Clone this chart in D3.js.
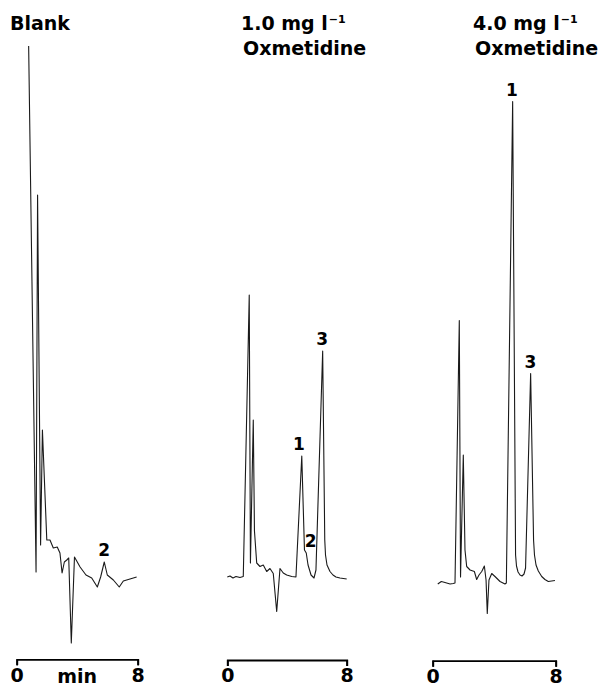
<!DOCTYPE html>
<html>
<head>
<meta charset="utf-8">
<script src="https://cdn.jsdelivr.net/npm/d3@7"></script>
<style>
  body { margin: 0; background: #fff; }
  text { font-family: "DejaVu Sans", sans-serif; font-weight: bold; fill: #000; }
</style>
</head>
<body>
<script>
// retention time (min) and detector response (arbitrary units)
const blankTime   = [0.79, 1.28, 1.38, 1.58, 1.70, 1.99, 2.20, 2.42, 2.68, 2.86, 3.00, 3.15, 3.31, 3.44, 3.61, 3.82, 4.19, 4.58, 4.96, 5.33, 5.55, 5.79, 5.99, 6.39, 6.78, 7.05, 7.49, 7.93];
const blankSignal = [106.8, 1.6, 77, 7, 30, 8, 8, 6.4, 6.6, 5.4, 1.4, 3.6, 4, 4.4, -12.6, 4.6, 2.6, 1, 0.4, -1.4, 0.6, 3.6, 1, 0, -1.4, -0.2, 0.2, 0.6];

const lowTime   = [0, 0.18, 0.38, 0.58, 0.85, 1.07, 1.47, 1.55, 1.74, 1.82, 1.97, 2.19, 2.41, 2.64, 2.86, 3.08, 3.31, 3.53, 3.75, 3.98, 4.32, 4.60, 4.99, 5.17, 5.29, 5.41, 5.61, 5.81, 5.94, 6.39, 6.53, 6.58, 6.68, 6.88, 7.08, 7.28, 7.55, 8.00];
const lowSignal = [0.6, 0.8, 0.4, 0.7, 0.5, 0.7, 57, 3.4, 32, 9.8, 3.4, 2.7, 3, 1.7, 2.3, 1.3, -6.3, 2.3, 1.4, 1, 0.7, 0.6, 24.8, 6, 5.4, 3, 1, 0.4, 2, 45.8, 8, 5, 3, 1.7, 1, 0.6, 0.4, 0.2];

const highTime   = [0.33, 0.56, 0.80, 1.13, 1.34, 1.45, 1.73, 1.81, 1.99, 2.10, 2.21, 2.43, 2.71, 2.86, 3.01, 3.19, 3.36, 3.47, 3.55, 3.66, 3.84, 4.05, 4.38, 4.70, 4.79, 5.20, 5.39, 5.45, 5.55, 5.68, 5.81, 5.94, 6.04, 6.37, 6.56, 6.62, 6.72, 6.87, 7.09, 7.30, 7.52, 7.95];
const highSignal = [-0.8, -0.3, -0.5, -0.8, -0.7, -0.6, 51.9, 0.6, 25, 6, 2.7, 2, 1.7, 0.1, 1, 1.7, 2.8, 0, -6.7, 0, 1.3, 0.7, -0.3, -0.8, -0.6, 95.7, 5, 2.8, 1.6, 1, 0.8, 1.2, 2.4, 41.3, 8, 5, 3, 1.8, 0.7, 0.1, -0.3, -0.1];

// numbered peaks: label text, time, response of the peak
const blankPeaks = [{ text: "2", t: 5.79, v: 3.6 }];
const lowPeaks   = [{ text: "1", t: 4.80, v: 24.8 }, { text: "2", t: 5.59, v: 5.4 }, { text: "3", t: 6.36, v: 45.8 }];
const highPeaks  = [{ text: "1", t: 5.16, v: 95.7 }, { text: "3", t: 6.36, v: 41.3 }];

const axisTicks = [0, 8];

const width = 603, height = 689;
const svg = d3.select("body").append("svg")
    .attr("width", width)
    .attr("height", height);

svg.append("rect").attr("width", width).attr("height", height).attr("fill", "#fff");

const y = d3.scaleLinear().domain([0, 100]).range([580, 80]);

const panels = [
    { lines: [["Blank"]], time: blankTime, signal: blankSignal, peaks: blankPeaks, x0: 16.7, x1: 137.7, axisY: 659.3, titleX: [10], unit: "min" },
    { lines: [["1.0 mg l", "\u22121"], ["Oxmetidine"]], time: lowTime, signal: lowSignal, peaks: lowPeaks, x0: 227.3, x1: 346.7, axisY: 660, titleX: [241, 243] },
    { lines: [["4.0 mg l", "\u22121"], ["Oxmetidine"]], time: highTime, signal: highSignal, peaks: highPeaks, x0: 432.7, x1: 555.7, axisY: 660.7, titleX: [473, 475] }
];

panels.forEach(p => {
    const x = d3.scaleLinear().domain([0, 8]).range([p.x0, p.x1]);
    const g = svg.append("g");

    // title
    p.lines.forEach((ln, i) => {
        const t = g.append("text")
            .attr("x", p.titleX[i])
            .attr("y", 30 + i * 25)
            .style("font-size", "19px")
            .text(ln[0]);
        if (ln[1]) {
            t.append("tspan")
                .attr("dy", -7)
                .attr("dx", 1)
                .style("font-size", "11px")
                .text(ln[1]);
        }
    });

    // chromatogram trace
    const pts = p.time.map((t, i) => [t, p.signal[i]]);
    g.append("path")
        .datum(pts)
        .attr("fill", "none")
        .attr("stroke", "#1a1a1a")
        .attr("stroke-width", 1.1)
        .attr("stroke-linejoin", "round")
        .attr("d", d3.line().x(d => x(d[0])).y(d => y(d[1])));

    // peak numbers
    g.selectAll(".peak")
        .data(p.peaks)
        .enter()
        .append("text")
        .attr("class", "peak")
        .attr("x", d => x(d.t))
        .attr("y", d => y(d.v) - 6)
        .attr("text-anchor", "middle")
        .style("font-size", "17px")
        .text(d => d.text);

    // time bar
    const ax = g.append("g")
        .attr("transform", `translate(0,${p.axisY})`)
        .call(d3.axisBottom(x).tickValues(axisTicks).tickSize(6).tickPadding(3).tickFormat(d3.format("d")));
    ax.select(".domain").attr("stroke", "#000").attr("stroke-width", 1.8);
    ax.selectAll(".tick line").attr("stroke", "#000").attr("stroke-width", 1.8);
    ax.selectAll(".tick text")
        .attr("fill", "#000")
        .style("font-family", "'DejaVu Sans', sans-serif")
        .style("font-weight", "bold")
        .style("font-size", "19px");

    if (p.unit) {
        g.append("text")
            .attr("x", x(4))
            .attr("y", p.axisY + 24)
            .attr("text-anchor", "middle")
            .style("font-size", "19px")
            .text(p.unit);
    }
});
</script>
</body>
</html>
